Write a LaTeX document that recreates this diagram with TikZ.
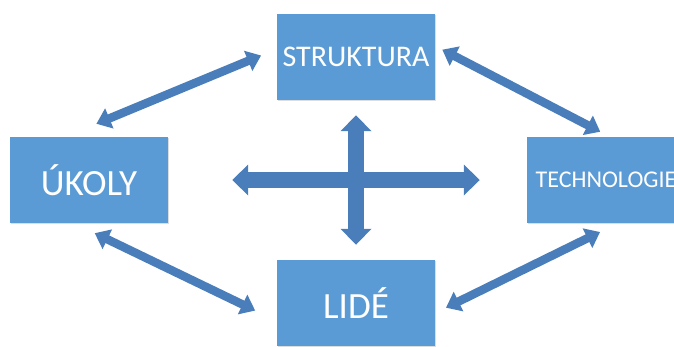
\documentclass[tikz,border=0pt]{standalone}
\usepackage{fontspec}
\setmainfont{Carlito}
\usetikzlibrary{arrows.meta,shadows}
\definecolor{boxblue}{HTML}{5B9BD5}
\definecolor{arrowblue}{HTML}{4A7EBB}

\begin{document}
\begin{tikzpicture}
    [x=1pt,y=-1pt,
    area/.style={
      rectangle,
      minimum width=158pt,
      minimum height=86pt,
      inner sep=0pt,
      fill=boxblue,
      text=white,
      drop shadow={shadow xshift=1.2pt,shadow yshift=-1.2pt,fill=black!22,opacity=.6},
      font=\fontsize{#1}{#1}\selectfont
      },
    area/.default=30pt,
    link/.style={
      draw=arrowblue,line width=8.5pt,
      {Triangle[width=21pt,length=14pt]}-{Triangle[width=21pt,length=14pt]}
      },
    cross/.style={
      draw=arrowblue,line width=16pt,
      {Triangle[width=30pt,length=16pt]}-{Triangle[width=30pt,length=16pt]}
      }]

    \useasboundingbox (0,0) rectangle (674,346);
    \clip (0,0) rectangle (674,346);

    \node (struktura)   [area      ] at (356,57)  {STRUKTURA};
    \node (ukoly)       [area=37pt ] at (89,180)  {ÚKOLY};
    \node (technologie) [area=24pt ] at (606,180) {TECHNOLOGIE};
    \node (lide)        [area=37pt ] at (356,303) {LIDÉ};

    \draw[link, shorten <=34pt, shorten >=17pt] ([xshift=-24pt]ukoly.north) -- ([yshift=8pt]struktura.west);
    \draw[link, shorten <=8pt, shorten >=11pt] ([yshift=11pt]struktura.east) -- ([xshift=4pt]technologie.north);
    \draw[link, shorten <=23pt, shorten >=24pt] ([xshift=-15pt]ukoly.south) -- ([yshift=-18pt]lide.west);
    \draw[link, shorten <=20pt, shorten >=12pt] ([xshift=12pt]technologie.south) -- ([yshift=-10pt]lide.east);

    \draw[cross, shorten <=64pt, shorten >=47pt] (ukoly.east) -- (technologie.west);
    \draw[cross, shorten <=15pt, shorten >=15pt] (struktura.south) -- (lide.north);

  \end{tikzpicture}
\end{document}
